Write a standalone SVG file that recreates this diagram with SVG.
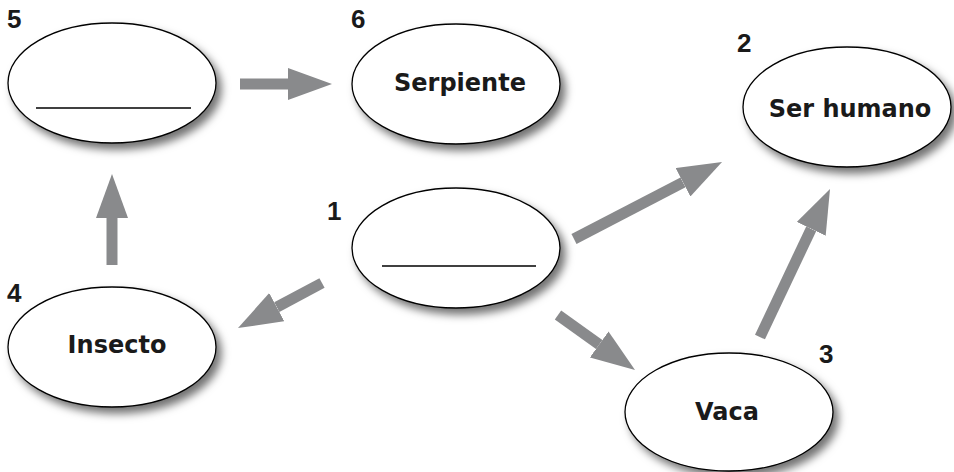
<svg xmlns="http://www.w3.org/2000/svg" width="954" height="472" viewBox="0 0 954 472">
<defs>
<filter id="sh" x="-20%" y="-20%" width="150%" height="160%">
<feDropShadow dx="5" dy="6" stdDeviation="4" flood-color="#000" flood-opacity="0.55"/>
</filter>
<marker id="ah" markerUnits="userSpaceOnUse" markerWidth="44" markerHeight="32" viewBox="0 0 44 32" refX="0" refY="16" orient="auto">
<path d="M0,0 L44,16 L0,32 z" fill="#898a8c"/>
</marker>
<style>
.node ellipse{fill:#fff;stroke:#000;stroke-width:1.3;filter:url(#sh)}
.lbl{font-family:"DejaVu Sans",sans-serif;font-weight:bold;font-size:24px;fill:#1a1a1a;text-anchor:middle}
.num{font-family:"Liberation Sans",Arial,sans-serif;font-weight:bold;font-size:26px;fill:#1a1a1a}
.blank{stroke:#000;stroke-width:1.3}
.conn line{stroke:#898a8c;stroke-width:11;marker-end:url(#ah)}
</style>
</defs>
<rect width="954" height="472" fill="#fff"/>
<g id="connectors" class="conn">
<line x1="240" y1="84" x2="288" y2="84"/>
<line x1="112" y1="265" x2="112" y2="218"/>
<line x1="322" y1="283" x2="276.8" y2="307.2"/>
<line x1="574" y1="239" x2="683" y2="182.3"/>
<line x1="558" y1="315" x2="599.2" y2="344.4"/>
<line x1="760" y1="337" x2="811.2" y2="228.8"/>
</g>
<g id="node1" class="node">
<ellipse cx="456" cy="248" rx="104" ry="60"/>
<line class="blank" x1="382" y1="266" x2="536" y2="266"/>
<text class="num" x="327" y="220">1</text>
</g>
<g id="node2" class="node">
<ellipse cx="847" cy="107" rx="104" ry="60"/>
<text class="lbl" x="850" y="117">Ser humano</text>
<text class="num" x="737" y="52">2</text>
</g>
<g id="node3" class="node">
<ellipse cx="729" cy="412" rx="104" ry="59"/>
<text class="lbl" x="727" y="420">Vaca</text>
<text class="num" x="819" y="363">3</text>
</g>
<g id="node4" class="node">
<ellipse cx="112" cy="347" rx="104" ry="60"/>
<text class="lbl" x="117" y="353">Insecto</text>
<text class="num" x="7" y="302">4</text>
</g>
<g id="node5" class="node">
<ellipse cx="112" cy="83" rx="104" ry="60"/>
<line class="blank" x1="36" y1="108" x2="191" y2="108"/>
<text class="num" x="7" y="28">5</text>
</g>
<g id="node6" class="node">
<ellipse cx="456" cy="84" rx="104" ry="60"/>
<text class="lbl" x="460" y="91">Serpiente</text>
<text class="num" x="351" y="28">6</text>
</g>
</svg>
